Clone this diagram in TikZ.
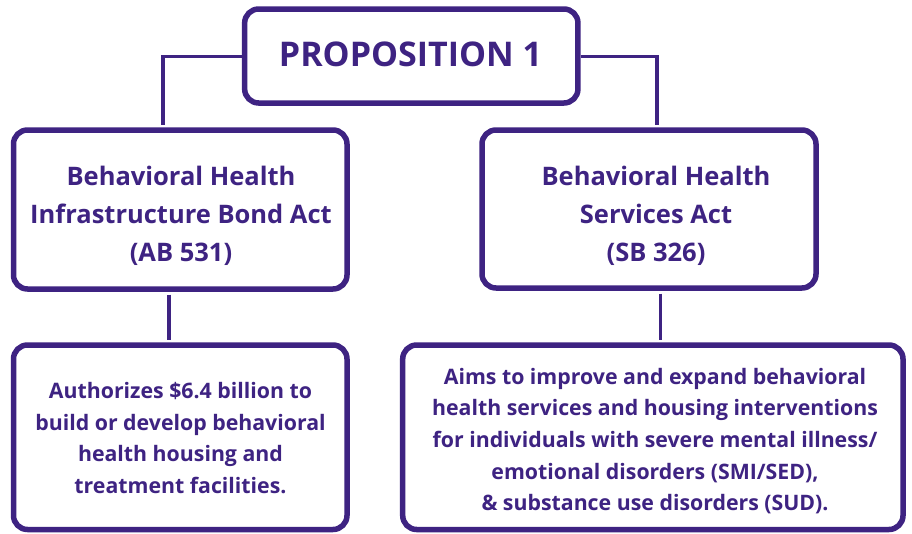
\documentclass[tikz,border=0pt]{standalone}
\usepackage{fontspec}
\setmainfont{Open Sans}
\definecolor{prop}{RGB}{62,35,130}
\begin{document}
\begin{tikzpicture}[x=1pt,y=-1pt,
  box/.style={draw=prop,line width=5.5pt,rounded corners=14pt,fill=white,inner sep=0pt},
  link/.style={draw=prop,line width=3.5pt},
  ttl/.style={text=prop,font=\bfseries\fontsize{34}{38}\selectfont,inner sep=0pt},
  mid/.style={text=prop,font=\bfseries\fontsize{25.5}{38}\selectfont,align=center,inner sep=0pt},
  low/.style={text=prop,font=\bfseries\fontsize{21.3}{31.7}\selectfont,align=center,inner sep=0pt}]
\useasboundingbox (0,0) rectangle (912,533);
\fill[white] (0,0) rectangle (912,533);
\node[box,minimum width=333.3pt,minimum height=94pt] (top) at (411.3,56) {};
\node[box,minimum width=333.5pt,minimum height=159pt] (lmid) at (180.25,209.5) {};
\node[box,minimum width=334pt,minimum height=158pt] (rmid) at (649,209) {};
\node[box,minimum width=333.5pt,minimum height=184.5pt] (lbot) at (180.25,437.25) {};
\node[box,minimum width=500.3pt,minimum height=184.5pt] (rbot) at (652.85,437.25) {};
\draw[link] ([yshift=-0.5pt]top.west) -| ([xshift=-17.5pt,yshift=2.75pt]lmid.north);
\draw[link] ([yshift=-0.5pt]top.east) -| ([xshift=8pt,yshift=2.75pt]rmid.north);
\draw[link] ([xshift=-11.5pt,yshift=-2.75pt]lmid.south) -- ([xshift=-11.5pt,yshift=2.75pt]lbot.north);
\draw[link] ([xshift=11.5pt,yshift=-2.75pt]rmid.south) -- ([xshift=7.65pt,yshift=2.75pt]rbot.north);
\node[ttl] (ttltext) at (410.5,54) {PROPOSITION 1};
\node[mid] (lmidtext) at (181,216) {Behavioral Health\\Infrastructure Bond Act\\(AB 531)};
\node[mid] (rmidtext) at (656,216) {Behavioral Health\\Services Act\\(SB 326)};
\node[low] (lbottext) at (180.5,438) {Authorizes \$6.4 billion to\\build or develop behavioral\\health housing and\\treatment facilities.};
\node[low] (rbottext) at (655,441) {Aims to improve and expand behavioral\\health services and housing interventions\\for individuals with severe mental illness/\\emotional disorders (SMI/SED),\\\& substance use disorders (SUD).};
\end{tikzpicture}
\end{document}
